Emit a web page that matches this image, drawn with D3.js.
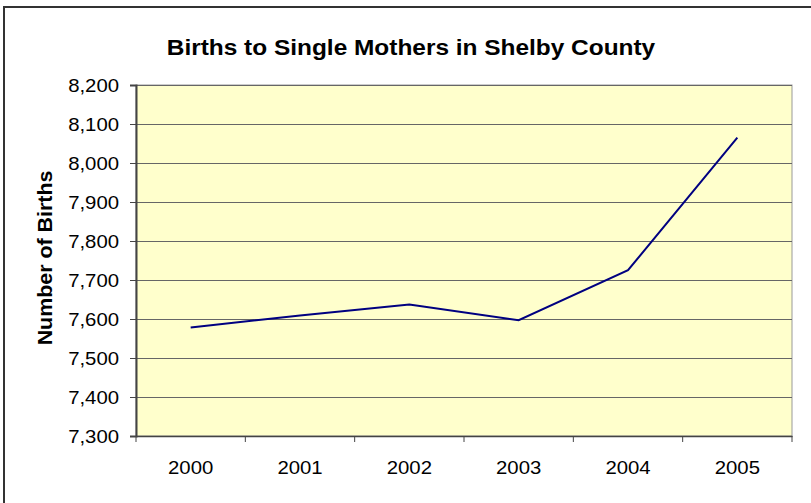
<!DOCTYPE html>
<html>
<head>
<meta charset="utf-8">
<script src="https://cdn.jsdelivr.net/npm/d3@7"></script>
<style>
  body { margin: 0; background: #fff; }
  svg { display: block; font-family: "Liberation Sans", Arial, sans-serif; }
</style>
</head>
<body>
<div id="chart"></div>
<script>
// births to single mothers
const years = ["2000", "2001", "2002", "2003", "2004", "2005"];
const births = [7578, 7609, 7637, 7597, 7725, 8065];
const yTicks = [7300, 7400, 7500, 7600, 7700, 7800, 7900, 8000, 8100, 8200];

const W = 811, H = 503;
const margin = {top: 85, right: 19, bottom: 67, left: 136};
const width = W - margin.left - margin.right;
const height = H - margin.top - margin.bottom;

// the original's text is a little wider than Liberation Sans
function stretch(sel, k) {
    sel.each(function() {
        const len = this.getComputedTextLength();
        d3.select(this).attr("textLength", len * k).attr("lengthAdjust", "spacingAndGlyphs");
    });
}

const svg = d3.select("#chart").append("svg")
    .attr("width", W)
    .attr("height", H);

// outer frame (only top and left edges show)
svg.append("path")
    .attr("d", `M4,${H} L4,7 L${W},7`)
    .attr("fill", "none")
    .attr("stroke", "#333")
    .attr("stroke-width", 2);

const title = svg.append("text")
    .attr("x", 411)
    .attr("y", 55)
    .attr("text-anchor", "middle")
    .attr("font-size", 22)
    .attr("font-weight", "bold")
    .text("Births to Single Mothers in Shelby County");
stretch(title, 1.11);

const g = svg.append("g").attr("transform", `translate(${margin.left},${margin.top})`);

const x = d3.scaleBand().domain(years).range([0, width]);
const y = d3.scaleLinear().domain([7300, 8200]).range([height, 0]);

g.append("rect")
    .attr("width", width)
    .attr("height", height)
    .attr("fill", "#FFFFCC")
    .attr("stroke", "#999")
    .attr("stroke-width", 1);

// gridlines
g.selectAll(".grid")
    .data(yTicks.slice(1))
    .enter().append("line")
    .attr("x1", 0)
    .attr("x2", width)
    .attr("y1", d => y(d) + 0.5)
    .attr("y2", d => y(d) + 0.5)
    .attr("stroke", "#666")
    .attr("stroke-width", 1);

const yAxis = g.append("g")
    .attr("font-family", null)
    .attr("font-size", null)
    .call(d3.axisLeft(y).tickValues(yTicks).tickFormat(d3.format(",")).tickSize(6).tickPadding(11));
yAxis.select(".domain").attr("stroke", "#444").attr("stroke-width", 2);
yAxis.selectAll(".tick line").attr("stroke", "#444");
yAxis.selectAll("text").attr("font-size", 19).attr("fill", "#000")
    .attr("font-family", "Liberation Sans, Arial, sans-serif");
stretch(yAxis.selectAll("text"), 1.07);

const xAxis = g.append("g")
    .attr("transform", `translate(0,${height})`)
    .call(d3.axisBottom(x).tickSize(0).tickPadding(0));
xAxis.select(".domain").attr("stroke", "#444").attr("stroke-width", 1.5);
xAxis.selectAll("text")
    .attr("dy", null)
    .attr("y", 38)
    .attr("font-size", 19).attr("fill", "#000")
    .attr("font-family", "Liberation Sans, Arial, sans-serif");
stretch(xAxis.selectAll("text"), 1.07);

// tick marks between categories
g.selectAll(".xtick")
    .data(years.concat("end"))
    .enter().append("line")
    .attr("x1", (d, i) => i * x.step())
    .attr("x2", (d, i) => i * x.step())
    .attr("y1", height)
    .attr("y2", height + 6)
    .attr("stroke", "#444");

const line = d3.line()
    .x((d, i) => x(years[i]) + x.bandwidth() / 2)
    .y(d => y(d));

g.append("path")
    .datum(births)
    .attr("fill", "none")
    .attr("stroke", "#000080")
    .attr("stroke-width", 2)
    .attr("d", line);

const ylab = svg.append("text")
    .attr("transform", `translate(52,258) rotate(-90)`)
    .attr("text-anchor", "middle")
    .attr("font-size", 20)
    .attr("font-weight", "bold")
    .text("Number of Births");
stretch(ylab, 1.07);
</script>
</body>
</html>
